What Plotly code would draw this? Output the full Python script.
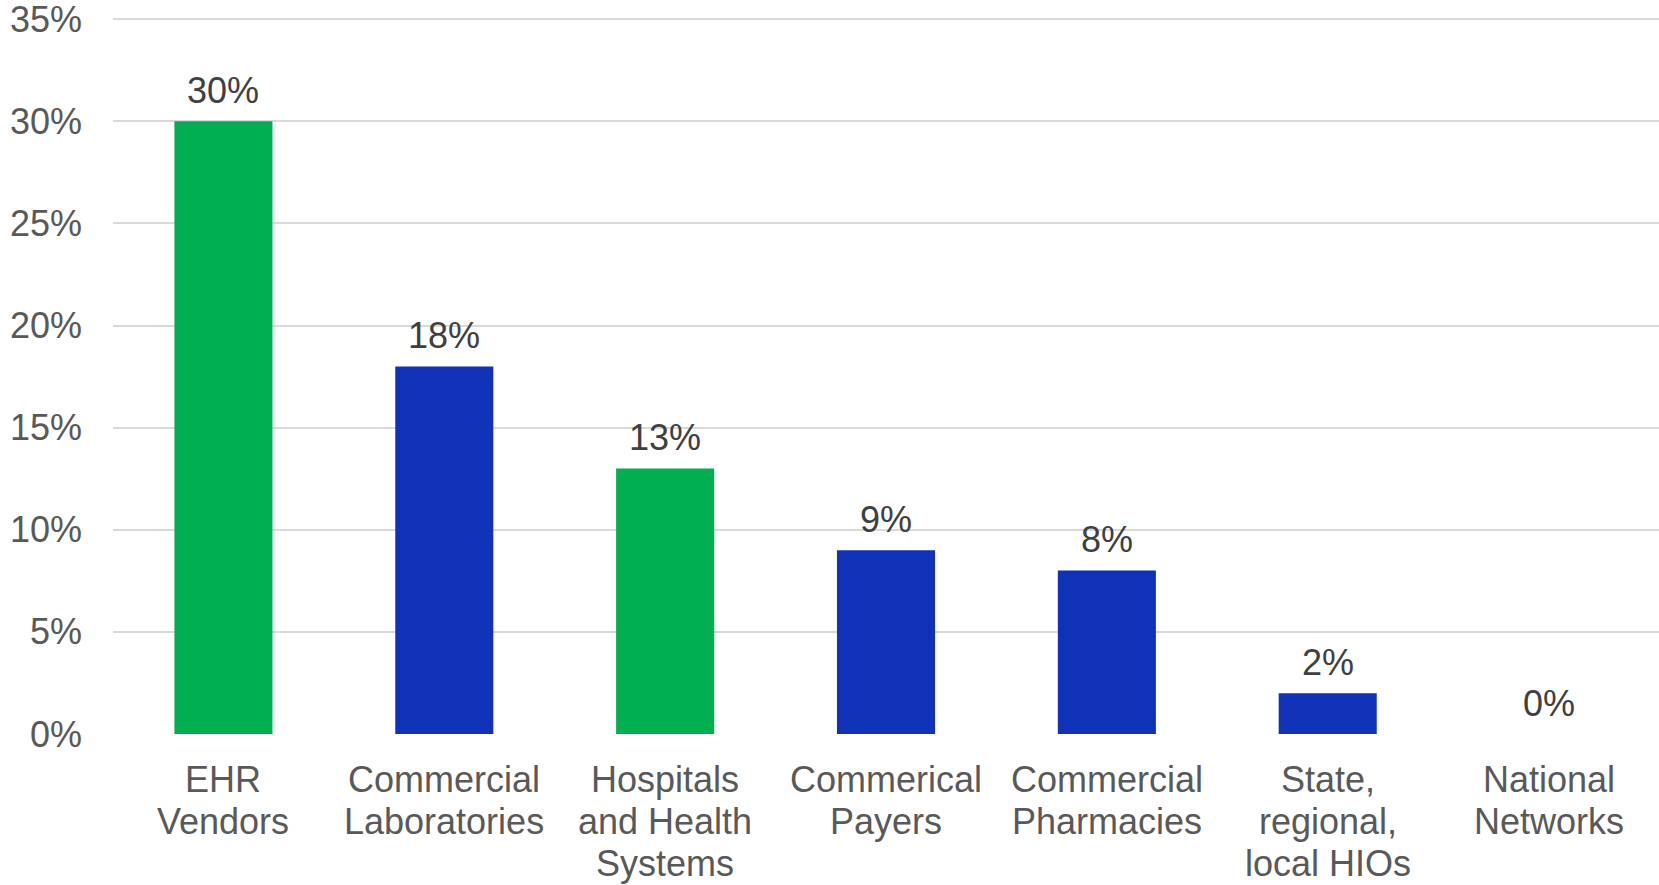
import plotly.graph_objects as go

category_lines = [["EHR", "Vendors"], ["Commercial", "Laboratories"], ["Hospitals", "and Health", "Systems"],
                  ["Commerical", "Payers"], ["Commercial", "Pharmacies"], ["State,", "regional,", "local HIOs"],
                  ["National", "Networks"]]
categories = [" ".join(l) for l in category_lines]
values = [0.30, 0.18, 0.13, 0.09, 0.08, 0.02, 0.00]
labels = ["30%", "18%", "13%", "9%", "8%", "2%", "0%"]
bar_colors = ["#00AF50", "#0F32B8", "#00AF50", "#0F32B8", "#0F32B8", "#0F32B8", "#0F32B8"]
ytick_vals = [0, 0.05, 0.10, 0.15, 0.20, 0.25, 0.30, 0.35]
ytick_text = ["0%", "5%", "10%", "15%", "20%", "25%", "30%", "35%"]

FONT = "Liberation Sans, Arial, sans-serif"

fig = go.Figure(go.Bar(
    x=categories, y=values, marker=dict(color=bar_colors, line=dict(width=0)),
    hoverinfo="skip",
))

annotations = []
for cat, val, lab, lines in zip(categories, values, labels, category_lines):
    annotations.append(dict(x=cat, y=val, xref="x", yref="y", text=lab, showarrow=False,
                            yanchor="middle", yshift=31,
                            font=dict(family=FONT, size=36, color="#404040")))
    for i, line in enumerate(lines):
        annotations.append(dict(x=cat, y=0, xref="x", yref="y", text=line, showarrow=False,
                                yanchor="middle", yshift=-45 - 42 * i,
                                font=dict(family=FONT, size=36, color="#595959")))

# y tick labels drawn as annotations so the top one (at the figure edge) is not dropped
for tv, tt in zip(ytick_vals, ytick_text):
    annotations.append(dict(x=0, y=tv, xref="paper", yref="y", text=tt, showarrow=False,
                            xanchor="right", yanchor="middle", xshift=-29,
                            font=dict(family=FONT, size=36, color="#595959")))

fig.update_layout(
    width=1659, height=885,
    margin=dict(l=113, r=0, t=9, b=151),
    paper_bgcolor="white", plot_bgcolor="white",
    bargap=0.556, showlegend=False,
    font=dict(family=FONT, size=36, color="#595959"),
    annotations=annotations,
)
fig.update_yaxes(range=[0, 0.355], tickvals=ytick_vals, showticklabels=False, showgrid=True,
                 gridcolor="#D9D9D9", gridwidth=2, zeroline=False, showline=False,
                 ticks="", automargin=False)
fig.update_xaxes(showgrid=False, showline=False, ticks="", showticklabels=False, automargin=False)

fig.write_html("out.html")
